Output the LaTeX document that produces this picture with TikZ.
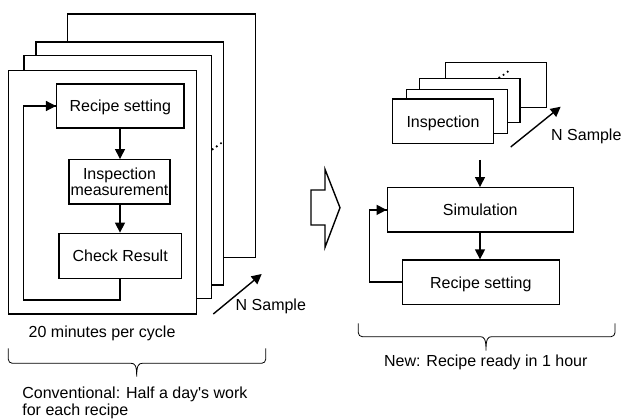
\documentclass[tikz,border=0pt]{standalone}
\usepackage{fontspec}
\setmainfont{Liberation Sans}
\newfontfamily\lsans{Liberation Sans}
\usetikzlibrary{arrows.meta}
\begin{document}
\begin{tikzpicture}[x=1pt,y=-1pt,
  every node/.style={font=\lsans\fontsize{16}{16.7}\selectfont},
  frame/.style={draw,fill=white,line width=1.4pt},
  box/.style={draw,fill=white,line width=1.4pt,inner sep=1pt,text height=12pt,text depth=0pt},
  conn/.style={line width=1.4pt,-{Triangle[length=10pt,width=10pt]}},
  loopline/.style={line width=1.4pt},
  bracel/.style={line width=0.8pt},
  lbl/.style={inner sep=0pt},
  dotc/.style={fill=black}]
\useasboundingbox (0,0) rectangle (621,419);

% ---- left: conventional ----
\draw[frame] (67.7,14) rectangle (255.7,257.3);
\draw[frame] (36,42) rectangle (223.3,285);
\draw[frame] (24,55.3) rectangle (211.7,298.7);
\draw[frame] (8.3,70.7) rectangle (196.7,314);
\foreach \p in {(212.6,149.3),(216.8,146.4),(221,143.3)} \fill[dotc] \p circle (1.2);

\node[box,minimum width=127.3pt,minimum height=44pt] (rs1) at (120.3,106) {Recipe setting};
\node[box,minimum width=101pt,minimum height=44.3pt,align=center,text height=,text depth=] (im) at (119.5,181.9) {Inspection\\measurement};
\node[box,minimum width=122.3pt,minimum height=45pt] (cr) at (120.2,255.8) {Check Result};

\draw[conn] (rs1.south -| 120,0) -- (im.north -| 120,0);
\draw[conn] (im.south -| 120,0) -- (cr.north -| 120,0);
\coordinate (lb) at (120,300);
\coordinate (ll) at (23.3,300);
\draw[loopline] (cr.south -| 120,0) -- (lb) -- (ll) -- (23.3,106) -- (rs1.west);
\draw[conn] (23.3,106) -- (rs1.west);

\coordinate (na1) at (213.3,314);
\coordinate (nb1) at (261.7,274);
\draw[conn] (na1) -- (nb1);
\node[lbl,anchor=base west] (ns1) at (235.5,311) {N Sample};

\node[lbl,anchor=base west] (t20) at (28.5,337.3) {20 minutes per cycle};

\draw[bracel] (8.3,348.3) -- (8.3,359.3) to[out=-90,in=180] (12.3,363.3) -- (131,363.3)
  .. controls (135,363.3) and (136.7,365.5) .. (136.7,376.7)
  .. controls (136.7,365.5) and (138.4,363.3) .. (142.4,363.3) -- (261.7,363.3)
  to[out=0,in=-90] (265.7,359.3) -- (265.7,348.3);
\node[lbl,anchor=base west] (conv1) at (22.2,398.3) {Conventional: Half a day's work};
\node[lbl,anchor=base west] (conv2) at (22.2,415) {for each recipe};

% ---- hollow arrow ----
\draw[line width=1.4pt,line join=miter] (311,190) -- (325,190) -- (325,169.3) -- (340,207.7) -- (325,247.3) -- (325,225) -- (311,225) -- cycle;

% ---- right: new ----
\draw[frame] (445.7,62.7) rectangle (546.7,107.3);
\draw[frame] (419.3,78.3) rectangle (520,122.3);
\draw[frame] (406.7,89.3) rectangle (507.3,133.3);
\foreach \p in {(499.3,77.6),(503.5,74.8),(507.7,71.7)} \fill[dotc] \p circle (1.2);
\node[box,minimum width=100.6pt,minimum height=44.3pt] (insp) at (443,121.2) {Inspection};

\coordinate (na2) at (510.7,147);
\coordinate (nb2) at (560.7,106.7);
\draw[conn] (na2) -- (nb2);
\node[lbl,anchor=base west] (ns2) at (551,141) {N Sample};

\node[box,minimum width=186pt,minimum height=44.3pt] (sim) at (480.3,209.9) {Simulation};
\node[box,minimum width=157pt,minimum height=44.3pt] (rs2) at (480.8,282.2) {Recipe setting};

\coordinate (dtop) at (480,160);
\draw[conn] (dtop) -- (sim.north -| 480,0);
\draw[conn] (sim.south -| 480,0) -- (rs2.north -| 480,0);
\coordinate (r2a) at (369.3,282.2);
\coordinate (r2b) at (369.3,209.9);
\draw[loopline] (rs2.west) -- (r2a) -- (r2b) -- (sim.west);
\draw[conn] (r2b) -- (sim.west);

\draw[bracel] (358.3,323.3) -- (358.3,332.7) to[out=-90,in=180] (362.3,336.7) -- (480.3,336.7)
  .. controls (484.3,336.7) and (486,338.9) .. (486,350.7)
  .. controls (486,338.9) and (487.7,336.7) .. (491.7,336.7) -- (611,336.7)
  to[out=0,in=-90] (615,332.7) -- (615,323.3);
\node[lbl,anchor=base] (newt) at (485.8,366.7) {New: Recipe ready in 1 hour};
\end{tikzpicture}
\end{document}
